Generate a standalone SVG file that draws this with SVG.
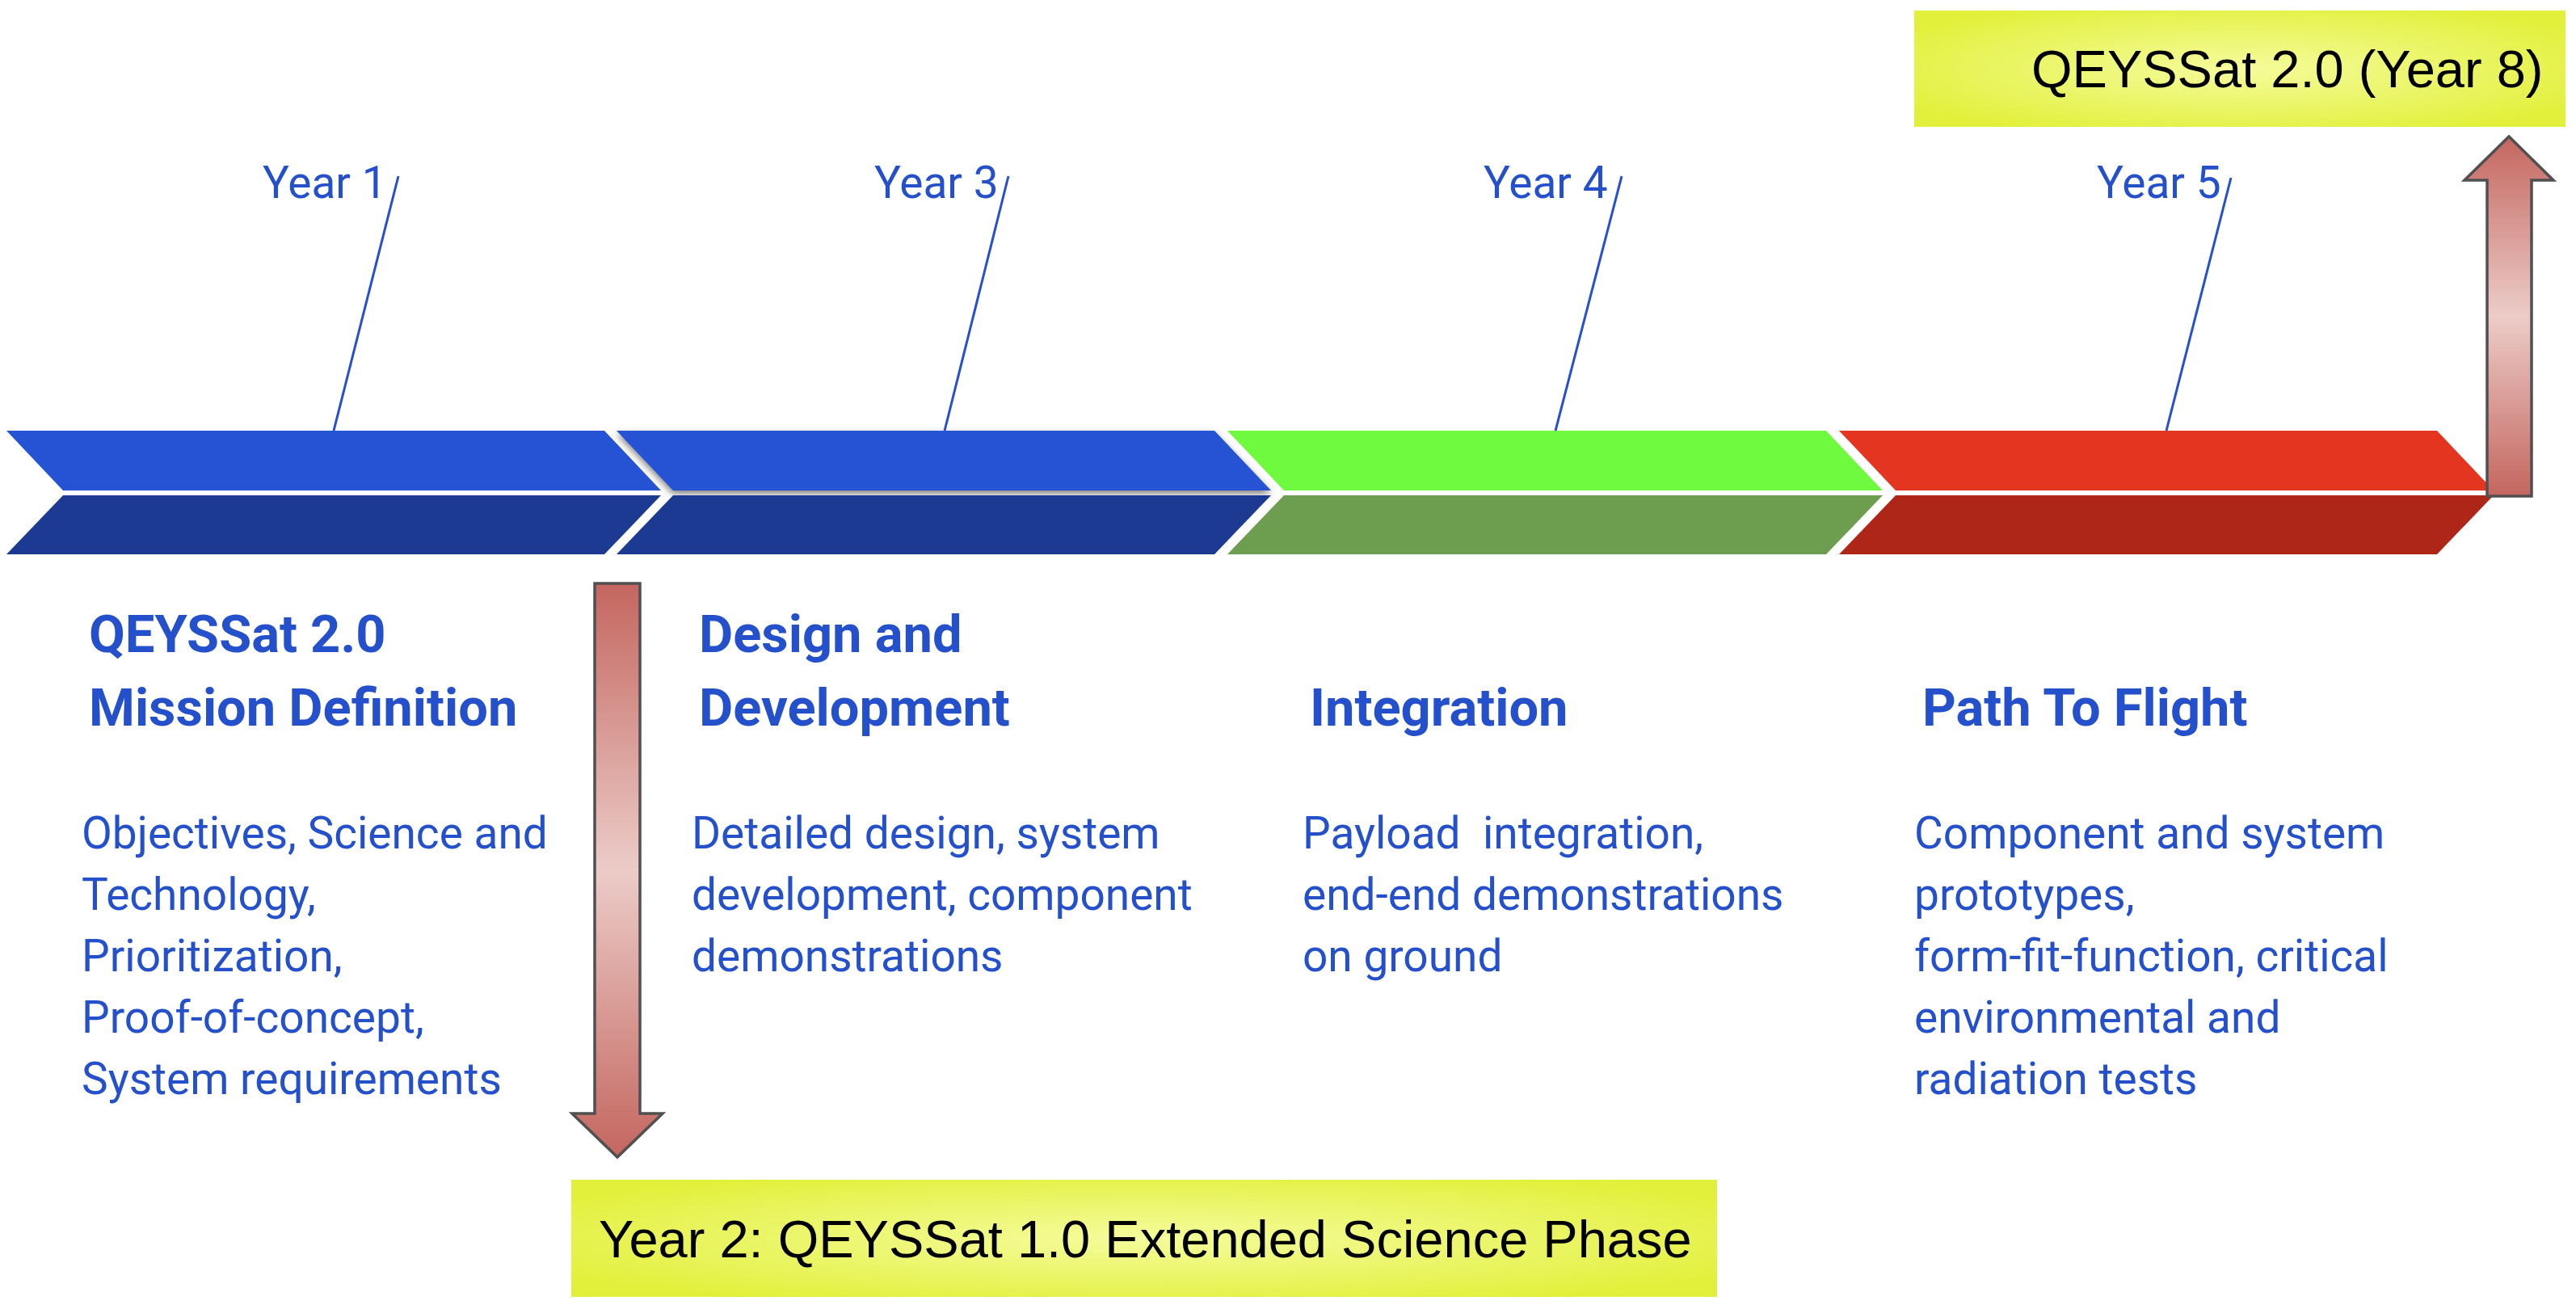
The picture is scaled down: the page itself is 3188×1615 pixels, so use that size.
<svg xmlns="http://www.w3.org/2000/svg" width="3188" height="1615" viewBox="0 0 3188 1615">
<style>
.yr{font-family:Roboto,"Liberation Sans",sans-serif;font-size:55px;fill:#2550CC}
.ttl{font-family:Roboto,"Liberation Sans",sans-serif;font-size:65px;font-weight:bold;fill:#2550CC}
.bd{font-family:Roboto,"Liberation Sans",sans-serif;font-size:55px;fill:#2550CC}
.box{font-family:"Liberation Sans",Arial,sans-serif;font-size:65px;fill:#000}
.lead{stroke:#2650D0;stroke-width:3;fill:none}
.arr{stroke:#505050;stroke-width:3.5}
</style>
<defs>
<radialGradient id="yel" cx="0.5" cy="0.5" r="0.6">
<stop offset="0" stop-color="#f5fc9c"/>
<stop offset="1" stop-color="#e2f03c"/>
</radialGradient>
<linearGradient id="up" x1="0" y1="169" x2="0" y2="614" gradientUnits="userSpaceOnUse">
<stop offset="0" stop-color="#c4665f"/>
<stop offset="0.5" stop-color="#ecccc8"/>
<stop offset="1" stop-color="#c4665f"/>
</linearGradient>
<linearGradient id="down" x1="0" y1="722" x2="0" y2="1432" gradientUnits="userSpaceOnUse">
<stop offset="0" stop-color="#c4665f"/>
<stop offset="0.5" stop-color="#ecccc8"/>
<stop offset="1" stop-color="#c4665f"/>
</linearGradient>
<filter id="sh" x="-5%" y="-20%" width="110%" height="140%">
<feDropShadow dx="0" dy="4" stdDeviation="4" flood-color="#444" flood-opacity="0.7"/>
</filter>
</defs>
<rect width="3188" height="1615" fill="#fff"/>

<g id="chevron-year1">
<polygon points="8,533 748,533 818,607 78,607" fill="#2553D3"/>
<polygon points="78,613 818,613 748,686 8,686" fill="#1C3A92"/>
</g>
<g id="chevron-year3">
<polygon points="763,533 1503,533 1573,607 833,607" fill="#2553D3" filter="url(#sh)"/>
<polygon points="833,613 1573,613 1503,686 763,686" fill="#1C3A92"/>
</g>
<g id="chevron-year4">
<polygon points="1519,533 2260,533 2330,607 1589,607" fill="#6FFA3F"/>
<polygon points="1589,613 2330,613 2260,686 1519,686" fill="#6D9D4F"/>
</g>
<g id="chevron-year5">
<polygon points="2276,533 3016,533 3086,607 2346,607" fill="#E3351F"/>
<polygon points="2346,613 3086,613 3016,686 2276,686" fill="#AE2617"/>
</g>

<g id="box-year8">
<rect x="2369" y="13" width="806" height="144" fill="url(#yel)"/>
<text class="box" x="2514" y="108">QEYSSat 2.0 (Year 8)</text>
</g>
<g id="box-year2">
<rect x="707" y="1460" width="1418" height="145" fill="url(#yel)"/>
<text class="box" x="741" y="1556">Year 2: QEYSSat 1.0 Extended Science Phase</text>
</g>

<g id="label-year1"><text class="yr" x="325" y="245">Year 1</text></g>
<g id="label-year3"><text class="yr" x="1082" y="245">Year 3</text></g>
<g id="label-year4"><text class="yr" x="1836" y="245">Year 4</text></g>
<g id="label-year5"><text class="yr" x="2595" y="245">Year 5</text></g>

<g id="connectors">
<line class="lead" x1="493" y1="218" x2="413" y2="533"/>
<line class="lead" x1="1248" y1="218" x2="1169" y2="533"/>
<line class="lead" x1="2007" y1="218" x2="1925" y2="533"/>
<line class="lead" x1="2761" y1="220" x2="2681" y2="533"/>
<path class="arr" fill="url(#up)" d="M3078,614 L3078,223 L3050,223 L3105,169 L3160,223 L3133,223 L3133,614 Z"/>
<path class="arr" fill="url(#down)" d="M736,722 L792,722 L792,1378 L820,1378 L764,1432 L708,1378 L736,1378 Z"/>
</g>

<g id="phase-mission-definition">
<text class="ttl" x="110" y="807">QEYSSat 2.0</text>
<text class="ttl" x="110" y="898">Mission Definition</text>
<text class="bd" x="101" y="1050">Objectives, Science and</text>
<text class="bd" x="101" y="1126">Technology,</text>
<text class="bd" x="101" y="1202">Prioritization,</text>
<text class="bd" x="101" y="1278">Proof-of-concept,</text>
<text class="bd" x="101" y="1354">System requirements</text>
</g>
<g id="phase-design">
<text class="ttl" x="865" y="807">Design and</text>
<text class="ttl" x="865" y="898">Development</text>
<text class="bd" x="856" y="1050">Detailed design, system</text>
<text class="bd" x="856" y="1126">development, component</text>
<text class="bd" x="856" y="1202">demonstrations</text>
</g>
<g id="phase-integration">
<text class="ttl" x="1621" y="898">Integration</text>
<text class="bd" x="1612" y="1050" xml:space="preserve">Payload  integration,</text>
<text class="bd" x="1612" y="1126">end-end demonstrations</text>
<text class="bd" x="1612" y="1202">on ground</text>
</g>
<g id="phase-path-to-flight">
<text class="ttl" x="2379" y="898">Path To Flight</text>
<text class="bd" x="2369" y="1050">Component and system</text>
<text class="bd" x="2369" y="1126">prototypes,</text>
<text class="bd" x="2369" y="1202">form-fit-function, critical</text>
<text class="bd" x="2369" y="1278">environmental and</text>
<text class="bd" x="2369" y="1354">radiation tests</text>
</g>
</svg>
